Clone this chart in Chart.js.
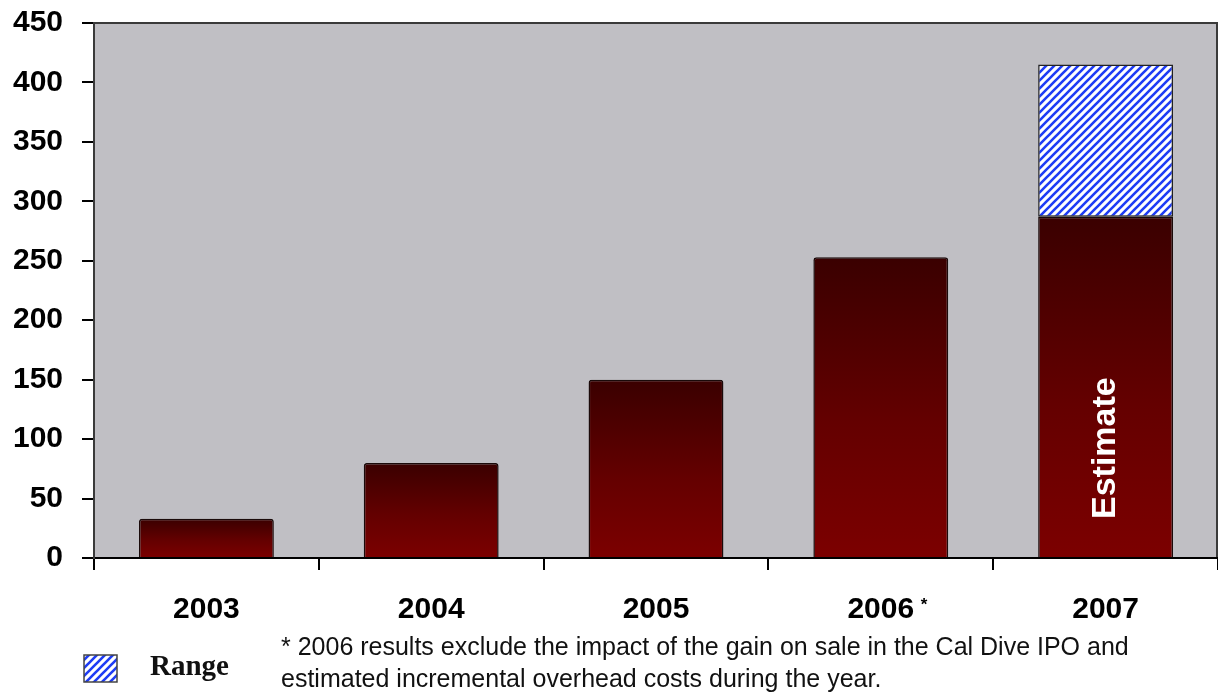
<!DOCTYPE html>
<html>
<head>
<meta charset="utf-8">
<script src="https://cdn.jsdelivr.net/npm/chart.js@4.4.0/dist/chart.umd.min.js"></script>
<style>
  html, body { margin: 0; padding: 0; background: #fff; }
  #wrap { width: 1218px; height: 693px; }
</style>
</head>
<body>
<div id="wrap"><canvas id="myChart"></canvas></div>
<script>
const years = ['2003', '2004', '2005', '2006', '2007'];
const actualValues = [33, 80, 150, 253, 287];
const estimateRange = [287, 415];   // 2007 low / high
const yMin = 0, yMax = 450, yStep = 50;
const footnoteLines = [
    '* 2006 results exclude the impact of the gain on sale in the Cal Dive IPO and',
    'estimated incremental overhead costs during the year.'
];

// blue diagonal hatch used for the range bar and its legend box
function makeHatch() {
    const c = document.createElement('canvas');
    c.width = 8; c.height = 8;
    const g = c.getContext('2d');
    g.fillStyle = '#ffffff';
    g.fillRect(0, 0, 8, 8);
    g.strokeStyle = '#1e3cf5';
    g.lineWidth = 2.6;
    g.beginPath();
    g.moveTo(-1, 9); g.lineTo(9, -1);
    g.moveTo(-5, 5); g.lineTo(5, -5);
    g.moveTo(3, 13); g.lineTo(13, 3);
    g.stroke();
    return g.createPattern(c, 'repeat');
}
const hatch = makeHatch();

// dark-to-red gradient, per bar
function barGradient(ctx) {
    const chart = ctx.chart;
    const y = chart.scales.y;
    if (!chart.chartArea || !y || ctx.parsed == null) return '#600000';
    const top = y.getPixelForValue(ctx.parsed.y);
    const bottom = y.getPixelForValue(0);
    const g = chart.ctx.createLinearGradient(0, top, 0, bottom);
    g.addColorStop(0, '#3a0000');
    g.addColorStop(0.55, '#640000');
    g.addColorStop(1, '#7c0000');
    return g;
}

const data = {
    labels: years,
    datasets: [{
        label: 'Actual',
        data: actualValues,
        backgroundColor: barGradient,
        borderColor: '#1a0a0a',
        borderWidth: 1.5,
        borderSkipped: 'bottom',
        borderRadius: (ctx) => ctx.dataIndex === 4 ? 0 : 3,
        barPercentage: 0.6,
        categoryPercentage: 1
    }, {
        label: 'Range',
        data: [null, null, null, null, estimateRange],
        backgroundColor: hatch,
        borderColor: '#222',
        borderWidth: 1.5,
        borderSkipped: false,
        barPercentage: 0.6,
        categoryPercentage: 1
    }]
};

const plotDeco = {
    id: 'plotDeco',
    beforeDraw(chart) {
        const { ctx, chartArea: a } = chart;
        ctx.save();
        ctx.fillStyle = '#c0bfc4';
        ctx.fillRect(a.left, a.top, a.right - a.left, a.bottom - a.top);
        ctx.strokeStyle = '#3a3a3a';
        ctx.lineWidth = 2;
        ctx.beginPath();
        ctx.moveTo(a.left - 12, a.top);
        ctx.lineTo(a.right, a.top);
        ctx.moveTo(a.right - 1, a.top);
        ctx.lineTo(a.right - 1, a.bottom);
        ctx.stroke();
        ctx.restore();
    },
    afterDraw(chart) {
        const ctx = chart.ctx;
        const x = chart.scales.x;
        ctx.save();

        // small asterisk after 2006
        ctx.fillStyle = '#000';
        ctx.font = 'bold 17px "Liberation Sans", Arial, sans-serif';
        ctx.textAlign = 'left';
        ctx.textBaseline = 'middle';
        ctx.fillText('*', x.getPixelForValue(3) + 40, 605);

        // "Estimate" inside 2007 bar
        const el = chart.getDatasetMeta(0).data[4];
        ctx.save();
        ctx.translate(el.x, el.base - 38);
        ctx.rotate(-Math.PI / 2);
        ctx.fillStyle = '#fff';
        ctx.font = 'bold 34px "Liberation Sans", Arial, sans-serif';
        ctx.textAlign = 'left';
        ctx.textBaseline = 'middle';
        ctx.fillText('Estimate', 0, 0);
        ctx.restore();

        // legend
        ctx.fillStyle = hatch;
        ctx.fillRect(84, 655, 33, 27);
        ctx.strokeStyle = '#444';
        ctx.lineWidth = 1.5;
        ctx.strokeRect(84, 655, 33, 27);
        ctx.fillStyle = '#111';
        ctx.font = 'bold 29px "Liberation Serif", "Times New Roman", serif';
        ctx.textBaseline = 'middle';
        ctx.fillText('Range', 150, 668);

        // footnote
        ctx.fillStyle = '#111';
        ctx.font = '25px "Liberation Sans", Arial, sans-serif';
        ctx.fillText(footnoteLines[0], 281, 648);
        ctx.fillText(footnoteLines[1], 281, 680);
        ctx.restore();
    }
};

const config = {
    type: 'bar',
    data: data,
    options: {
        responsive: true,
        maintainAspectRatio: false,
        animation: false,
        layout: { padding: { top: 23, right: 0, left: 0, bottom: 0 } },
        plugins: {
            legend: { display: false },
            tooltip: { enabled: false }
        },
        scales: {
            x: {
                stacked: true,
                grid: {
                    offset: true,
                    drawOnChartArea: false,
                    tickLength: 12,
                    color: '#000',
                    lineWidth: 2
                },
                border: { color: '#000', width: 2 },
                ticks: {
                    color: '#000',
                    padding: 22,
                    font: { family: '"Liberation Sans", Arial, sans-serif', size: 30, weight: 'bold' }
                },
                afterFit(scale) {
                    scale.height = 135;
                    scale.paddingLeft = 0;
                    scale.paddingRight = 0;
                }
            },
            y: {
                stacked: false,
                min: yMin,
                max: yMax,
                grid: {
                    drawOnChartArea: false,
                    tickLength: 12,
                    color: '#000',
                    lineWidth: 2
                },
                border: { color: '#3a3a3a', width: 2 },
                ticks: {
                    stepSize: yStep,
                    color: '#000',
                    padding: 19,
                    font: { family: '"Liberation Sans", Arial, sans-serif', size: 30, weight: 'bold' }
                },
                afterFit(scale) {
                    scale.width = 94;
                    scale.paddingTop = 0;
                    scale.paddingBottom = 0;
                }
            }
        }
    },
    plugins: [plotDeco]
};

// Render the chart
const myChart = new Chart(document.getElementById('myChart'), config);
</script>
</body>
</html>
